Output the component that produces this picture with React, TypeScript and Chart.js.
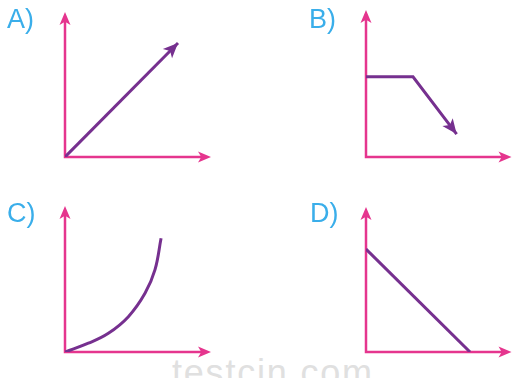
import React, { useEffect, useRef } from "react";
import { Chart, registerables } from "chart.js";

Chart.register(...registerables);

// Shared axis range (arbitrary units, no ticks shown)
const axisMin = 0;
const axisMax = 10;

// Panel A: straight rising line with arrow
const aX = [0, 7.74];
const aY = [0, 7.86];

// Panel B: constant, then falling with arrow
const bX = [0, 3.23, 6.23];
const bY = [5.46, 5.46, 1.56];

// Panel C: increasing, concave-up curve
const cX = [0, 1.6, 2.97, 4.34, 5.48, 6.16, 6.58];
const cY = [0, 0.6, 1.28, 2.42, 4.02, 5.62, 7.79];

// Panel D: straight falling line
const dX = [0, 7.15];
const dY = [7.1, 0];

const panelLabels = ["A)", "B)", "C)", "D)"];
const watermark = "testcin.com";

const PINK = "#e5358e";
const PURPLE = "#76308f";
const CYAN = "#3aaeea";

function drawHead(ctx: CanvasRenderingContext2D, x1: number, y1: number, x2: number, y2: number, len: number, half: number, color: string) {
  const ang = Math.atan2(y2 - y1, x2 - x1);
  const bx = x2 - len * Math.cos(ang);
  const by = y2 - len * Math.sin(ang);
  const nx = -Math.sin(ang);
  const ny = Math.cos(ang);
  ctx.save();
  ctx.fillStyle = color;
  ctx.beginPath();
  ctx.moveTo(x2, y2);
  ctx.lineTo(bx + nx * half, by + ny * half);
  ctx.lineTo(bx + len * 0.25 * Math.cos(ang), by + len * 0.25 * Math.sin(ang));
  ctx.lineTo(bx - nx * half, by - ny * half);
  ctx.closePath();
  ctx.fill();
  ctx.restore();
}

const axesPlugin = {
  id: "arrowAxes",
  beforeDatasetsDraw(chart: any) {
    const { ctx, chartArea } = chart;
    const { left, right, top, bottom } = chartArea;
    ctx.save();
    ctx.strokeStyle = PINK;
    ctx.lineWidth = 2.5;
    ctx.lineCap = "square";
    ctx.beginPath();
    ctx.moveTo(left, bottom);
    ctx.lineTo(right - 8, bottom);
    ctx.moveTo(left, bottom);
    ctx.lineTo(left, top + 8);
    ctx.stroke();
    ctx.restore();
    drawHead(ctx, left, bottom, right, bottom, 13, 5.5, PINK);
    drawHead(ctx, left, bottom, left, top, 13, 5.5, PINK);
  },
  afterDatasetsDraw(chart: any, _args: any, opts: any) {
    if (!opts || !opts.lineArrow) return;
    const pts = chart.getDatasetMeta(0).data;
    if (pts.length < 2) return;
    const p1 = pts[pts.length - 2];
    const p2 = pts[pts.length - 1];
    drawHead(chart.ctx, p1.x, p1.y, p2.x, p2.y, 15, 6.5, PURPLE);
  },
};

type PanelProps = {
  xs: number[];
  ys: number[];
  left: number;
  top: number;
  width: number;
  height: number;
  pad: { left: number; top: number; right: number; bottom: number };
  arrow: boolean;
  smooth: boolean;
};

function Panel({ xs, ys, left, top, width, height, pad, arrow, smooth }: PanelProps) {
  const ref = useRef<HTMLCanvasElement>(null);
  useEffect(() => {
    if (!ref.current) return;
    const chart = new Chart(ref.current, {
      type: "scatter",
      data: {
        datasets: [
          {
            data: xs.map((x, i) => ({ x, y: ys[i] })),
            showLine: true,
            borderColor: PURPLE,
            borderWidth: 3,
            pointRadius: 0,
            pointHoverRadius: 0,
            borderCapStyle: "butt",
            borderJoinStyle: "miter",
            tension: smooth ? 0.4 : 0,
            fill: false,
          } as any,
        ],
      },
      options: {
        responsive: false,
        animation: false,
        devicePixelRatio: 1,
        layout: { padding: pad },
        scales: {
          x: { type: "linear", min: axisMin, max: axisMax, display: false },
          y: { type: "linear", min: axisMin, max: axisMax, display: false },
        },
        plugins: {
          legend: { display: false },
          tooltip: { enabled: false },
          arrowAxes: { lineArrow: arrow },
        } as any,
        events: [],
      },
      plugins: [axesPlugin],
    });
    return () => chart.destroy();
  }, []);
  return (
    <canvas
      ref={ref}
      width={width}
      height={height}
      style={{ position: "absolute", left, top, width, height, display: "block" }}
    />
  );
}

const labelStyle = (left: number, top: number): React.CSSProperties => ({
  position: "absolute",
  left,
  top,
  fontFamily: "'Liberation Sans', Arial, sans-serif",
  fontSize: 27,
  lineHeight: "27px",
  color: CYAN,
  whiteSpace: "nowrap",
});

export default function App() {
  return (
    <div
      style={{
        position: "fixed",
        left: 0,
        top: 0,
        width: 513,
        height: 378,
        background: "#ffffff",
        overflow: "hidden",
      }}
    >
      <div
        style={{
          position: "absolute",
          left: 172,
          top: 355,
          fontFamily: "'Liberation Sans', Arial, sans-serif",
          fontSize: 36,
          lineHeight: "36px",
          letterSpacing: 1.8,
          color: "#e0e0e0",
          whiteSpace: "nowrap",
        }}
      >
        {watermark}
      </div>
      <Panel xs={aX} ys={aY} left={0} top={0} width={256} height={189}
        pad={{ left: 65, top: 12, right: 45, bottom: 32 }} arrow={true} smooth={false} />
      <Panel xs={bX} ys={bY} left={256} top={0} width={257} height={189}
        pad={{ left: 110, top: 10, right: 1.5, bottom: 32 }} arrow={true} smooth={false} />
      <Panel xs={cX} ys={cY} left={0} top={189} width={256} height={189}
        pad={{ left: 65, top: 17, right: 45, bottom: 26 }} arrow={false} smooth={true} />
      <Panel xs={dX} ys={dY} left={256} top={189} width={257} height={189}
        pad={{ left: 110, top: 18, right: 1.5, bottom: 26 }} arrow={false} smooth={false} />
      <div style={labelStyle(7, 6)}>{panelLabels[0]}</div>
      <div style={labelStyle(309, 6)}>{panelLabels[1]}</div>
      <div style={labelStyle(7, 200)}>{panelLabels[2]}</div>
      <div style={labelStyle(310, 200)}>{panelLabels[3]}</div>
    </div>
  );
}
